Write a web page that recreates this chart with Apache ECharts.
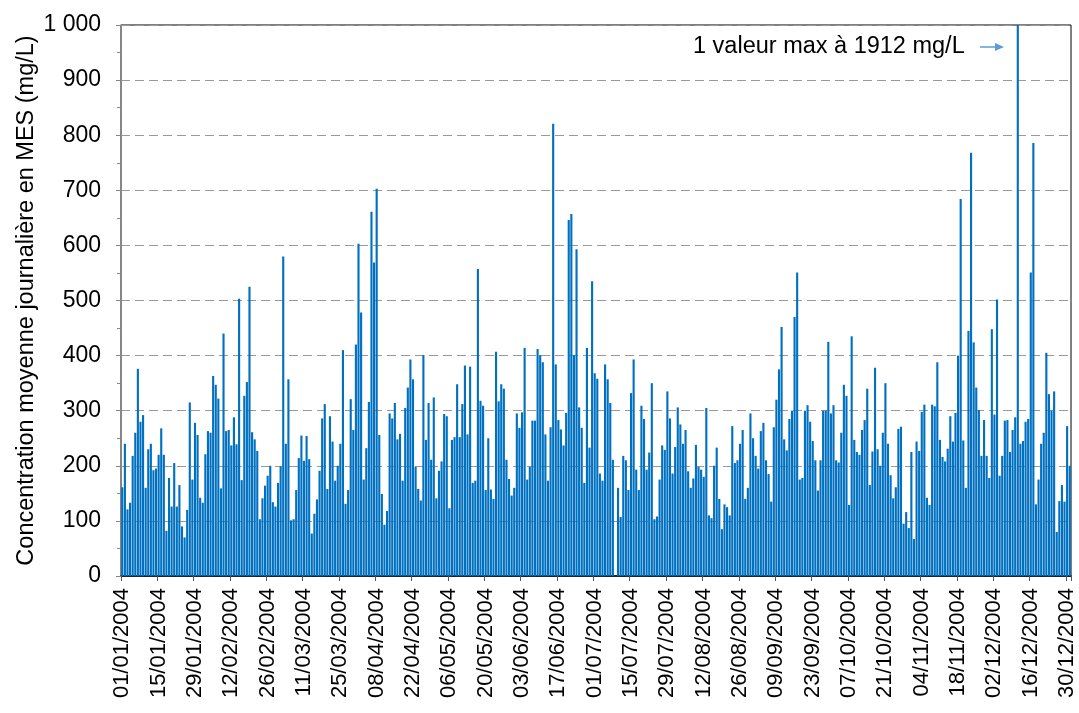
<!DOCTYPE html>
<html><head><meta charset="utf-8">
<script src="https://cdn.jsdelivr.net/npm/echarts@6/dist/echarts.min.js"></script>
<style>html,body{margin:0;padding:0;background:#fff}#c{width:1079px;height:713px}</style>
</head><body><div id="c"></div>
<script>
// Daily mean MES concentration (mg/L), 2004
const daysJan01toJan28 = [161,240,121,133,218,260,376,280,292,160,230,240,192,195,220,268,220,82,178,126,205,126,165,90,70,120,315,175];
const daysJan29toFeb29 = [278,256,142,133,221,263,260,363,347,322,159,440,263,265,237,288,239,503,174,327,352,525,261,248,227,103,141,164,182,200,134,126];
const daysMar01toMar30 = [169,199,580,240,357,101,103,156,214,255,209,254,212,77,113,139,191,286,312,158,290,244,173,200,240,410,131,156,321,265];
const daysMar31toMay01 = [420,603,478,175,232,316,661,569,703,256,149,93,118,295,286,314,248,258,173,305,342,393,357,198,158,137,401,247,314,211,324,141];
const daysMay02toMay31 = [191,208,294,290,123,247,252,348,252,312,382,257,380,169,173,557,318,309,156,250,157,140,407,317,348,340,211,176,146,160];
const daysJun01toJul02 = [295,269,297,414,175,198,282,282,412,401,388,257,173,270,821,384,283,266,237,296,646,657,401,593,306,269,169,414,233,535,368,358];
const daysJul03toAug01 = [186,173,384,357,314,211,0,160,107,218,210,156,332,393,193,156,309,285,193,224,350,103,108,175,237,229,335,286,186,234];
const daysAug02toAug31 = [306,275,240,265,190,160,177,238,198,193,180,305,110,105,200,233,140,85,130,125,110,272,205,210,240,265,140,160,295,250];
const daysSep01toOct02 = [218,195,263,278,210,185,135,270,320,375,452,248,228,285,300,470,551,175,178,300,310,280,245,210,155,210,300,300,425,295,310,210];
const daysOct03toOct31 = [206,260,347,327,129,435,247,225,220,265,283,340,165,226,378,230,200,260,350,240,183,141,161,267,271,95,116,87,225];
const daysNov01toDec02 = [67,244,227,298,311,142,129,311,308,388,247,216,208,231,290,244,296,400,684,246,160,445,768,424,342,301,218,283,218,178,448,293];
const daysDec03toDec11 = [502,182,218,282,283,225,265,288,1912];
const daysDec12toDec31 = [240,245,280,285,551,786,130,175,240,260,405,330,300,335,80,136,165,135,272,200];

const values = [].concat(daysJan01toJan28, daysJan29toFeb29, daysMar01toMar30, daysMar31toMay01,
  daysMay02toMay31, daysJun01toJul02, daysJul03toAug01, daysAug02toAug31, daysSep01toOct02,
  daysOct03toOct31, daysNov01toDec02, daysDec03toDec11, daysDec12toDec31);

// categories: every day of 2004
const categories = [];
for (let d = new Date(Date.UTC(2004,0,1)); d.getUTCFullYear() === 2004; d.setUTCDate(d.getUTCDate()+1)) {
  const dd = String(d.getUTCDate()).padStart(2,'0');
  const mm = String(d.getUTCMonth()+1).padStart(2,'0');
  categories.push(dd + '/' + mm + '/2004');
}

const yAxisTitle = 'Concentration moyenne journalière en MES (mg/L)';
const annotationText = '1 valeur max à 1912 mg/L';

const chart = echarts.init(document.getElementById('c'), null, {renderer:'canvas'});
const FONT = 'Liberation Sans, Arial, sans-serif';
chart.setOption({
  animation: false,
  backgroundColor: '#fff',
  grid: {left: 121, right: 8, top: 25, bottom: 137, show: true, borderColor: '#000', borderWidth: 1},
  xAxis: {
    type: 'category',
    data: categories,
    boundaryGap: true,
    axisLine: {lineStyle: {color: '#000', width: 1.5}},
    axisTick: {show: true, interval: (i) => i % 14 === 0, length: 5, lineStyle: {color: '#555'}},
    axisLabel: {
      interval: (i) => i % 14 === 0,
      rotate: 90, fontSize: 22, color: '#000', fontFamily: FONT, margin: 12
    },
    splitLine: {show: false}
  },
  yAxis: {
    type: 'value', min: 0, max: 1000, interval: 100,
    name: yAxisTitle, nameLocation: 'middle', nameGap: 82, nameRotate: 90,
    nameMoveOverlap: false,
    nameTextStyle: {fontSize: 23.5, color: '#000', fontFamily: FONT},
    axisLine: {show: true, lineStyle: {color: '#888', width: 1.5}},
    axisTick: {show: true, length: 5, lineStyle: {color: '#888'}},
    minorTick: {show: true, splitNumber: 2, length: 4, lineStyle: {color: '#888'}},
    axisLabel: {fontSize: 23, color: '#000', fontFamily: FONT, margin: 20,
      formatter: (v) => v >= 1000 ? String(v).replace(/\B(?=(\d{3})+(?!\d))/g, ' ') : String(v)},
    splitLine: {show: true, lineStyle: {color: '#999', type: [9, 5], width: 1.2}}
  },
  series: [{
    type: 'bar',
    data: values,
    barCategoryGap: '18%',
    clip: true,
    itemStyle: {color: '#0070C0'}
  }],
  graphic: [
    {type: 'text', left: 693, top: 35,
      style: {text: annotationText, fontSize: 23.5, fill: '#000', fontFamily: FONT}},
    {type: 'line', shape: {x1: 980, y1: 47, x2: 997, y2: 47},
      style: {stroke: '#5B9BD5', lineWidth: 1.5}},
    {type: 'polygon', shape: {points: [[995, 43], [1004, 47], [995, 51]]},
      style: {fill: '#5B9BD5'}}
  ]
});
</script>
</body></html>
